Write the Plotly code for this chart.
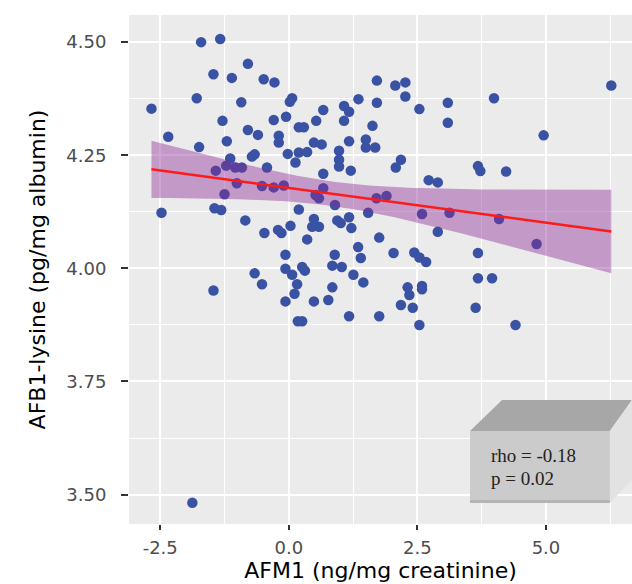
import numpy as np
import plotly.graph_objects as go

# AFM1 (ng/mg creatinine) values
afm1 = [
    -1.705, -1.334, -0.795, -1.465, -1.107, -0.488, -0.279, -1.790, -2.670, -0.924,
    0.065, 0.020, -1.289, -0.293, -0.053, -0.795, -0.600, -0.195, -0.195, -2.344,
    -1.205, -1.744, -0.664, -0.717, -0.020, 0.195, 0.357, 0.130, -1.139, -1.217,
    -1.041, -0.912, -0.424, -1.420, -1.010, -0.521, -0.293, -0.098, -1.250, -2.475,
    -1.445, -1.314, -0.846, -0.475, -0.209, -0.143, 0.033, 0.195, -0.065, -0.065,
    0.065, -0.664, -0.521, -1.465, 0.162, 0.111, -0.065, 0.176, 1.713, 2.070,
    2.266, 2.266, 1.354, 1.713, 3.092, 2.539, 3.092, 0.670, 1.074, 1.172,
    0.533, 1.074, 1.627, 0.195, 0.293, 1.498, 1.172, 0.488, 0.639, 1.498,
    1.680, 0.977, 0.977, 0.977, 1.205, 2.180, 2.080, 0.670, 2.720, 2.897,
    0.670, 6.270, 3.990, 4.955, 3.678, 3.725, 4.225, 0.520, 0.586, 1.705,
    1.900, 0.898, 1.543, 2.590, 3.125, 0.488, 0.455, 0.586, 0.943, 1.010,
    1.172, 1.217, 2.897, 0.357, 1.758, 1.348, 0.893, 1.400, 2.037, 2.440,
    2.540, 2.670, 0.846, 1.030, 0.260, 0.313, 1.256, 1.450, 0.846, 2.310,
    2.590, 2.590, 2.344, 0.488, 0.768, 2.180, 2.410, 1.172, 1.758, 0.260,
    2.539, 4.088, 4.818, 3.678, 3.678, 3.952, 3.633, 4.408, -1.875,
]

# AFB1-lysine (pg/mg albumin) values
afb1_lysine = [
    4.500, 4.507, 4.452, 4.429, 4.421, 4.418, 4.411, 4.376, 4.353, 4.367,
    4.376, 4.368, 4.326, 4.328, 4.335, 4.306, 4.295, 4.293, 4.278, 4.291,
    4.281, 4.268, 4.252, 4.247, 4.253, 4.256, 4.257, 4.234, 4.243, 4.227,
    4.223, 4.223, 4.223, 4.216, 4.188, 4.182, 4.179, 4.183, 4.164, 4.123,
    4.133, 4.129, 4.106, 4.078, 4.085, 4.078, 4.094, 4.130, 4.030, 3.999,
    3.986, 3.989, 3.965, 3.951, 3.965, 3.944, 3.927, 3.883, 4.415, 4.404,
    4.411, 4.380, 4.374, 4.366, 4.366, 4.352, 4.322, 4.350, 4.359, 4.346,
    4.326, 4.326, 4.315, 4.312, 4.312, 4.285, 4.281, 4.278, 4.274, 4.267,
    4.267, 4.260, 4.240, 4.225, 4.216, 4.240, 4.223, 4.209, 4.195, 4.190,
    4.177, 4.404, 4.376, 4.294, 4.226, 4.215, 4.214, 4.162, 4.155, 4.155,
    4.160, 4.140, 4.123, 4.120, 4.123, 4.109, 4.092, 4.092, 4.106, 4.100,
    4.113, 4.089, 4.081, 4.064, 4.068, 4.047, 4.030, 4.023, 4.034, 4.035,
    4.024, 4.014, 4.006, 4.003, 4.003, 3.995, 3.986, 3.969, 3.958, 3.958,
    3.961, 3.954, 3.941, 3.927, 3.930, 3.919, 3.913, 3.894, 3.894, 3.883,
    3.875, 4.109, 4.054, 4.034, 3.978, 3.978, 3.913, 3.875, 3.482,
]

x_tick_labels = ["-2.5", "0.0", "2.5", "5.0"]
y_tick_labels = ["3.50", "3.75", "4.00", "4.25", "4.50"]
stats_text = ["rho = -0.18", "p = 0.02"]

x = np.array(afm1)
y = np.array(afb1_lysine)
n = len(x)

# linear fit with 95% confidence band (like geom_smooth(method="lm"))
slope, intercept = np.polyfit(x, y, 1)
resid = y - (intercept + slope * x)
s = np.sqrt(np.sum(resid ** 2) / (n - 2))
xbar = x.mean()
sxx = np.sum((x - xbar) ** 2)
T_CRIT = 1.976
xg = np.linspace(x.min(), x.max(), 80)
yg = intercept + slope * xg
se = s * np.sqrt(1.0 / n + (xg - xbar) ** 2 / sxx)
upper = yg + T_CRIT * se
lower = yg - T_CRIT * se

fig = go.Figure()
fig.add_trace(go.Scatter(
    x=x, y=y, mode="markers",
    marker=dict(color="#3A52A3", size=10.5, line=dict(width=0)),
    hoverinfo="x+y", showlegend=False,
))
fig.add_trace(go.Scatter(
    x=np.concatenate([xg, xg[::-1]]),
    y=np.concatenate([upper, lower[::-1]]),
    mode="lines", fill="toself",
    fillcolor="rgba(140,40,150,0.42)",
    line=dict(width=0), hoverinfo="skip", showlegend=False,
))
fig.add_trace(go.Scatter(
    x=xg, y=yg, mode="lines",
    line=dict(color="#FF1A1A", width=2.5),
    hoverinfo="skip", showlegend=False,
))

font_ticks = dict(family="DejaVu Sans, Liberation Sans, Arial", size=18, color="#4D4D4D")
font_title = dict(family="DejaVu Sans, Liberation Sans, Arial", size=22, color="#000000")

fig.update_xaxes(
    range=[-3.107, 6.673],
    tickmode="array", tickvals=[float(v) for v in x_tick_labels], ticktext=x_tick_labels,
    ticks="outside", ticklen=5, tickwidth=1.5, tickcolor="#333333",
    tickfont=font_ticks, ticklabelstandoff=2,
    showgrid=True, gridcolor="white", gridwidth=1.8,
    minor=dict(tickvals=[-1.25, 1.25, 3.75, 6.25], showgrid=True, gridcolor="white", gridwidth=0.9, ticks=""),
    zeroline=False, showline=False,
    title=dict(text="AFM1 (ng/mg creatinine)", font=font_title, standoff=4),
)
fig.update_yaxes(
    range=[3.435, 4.560],
    tickmode="array", tickvals=[float(v) for v in y_tick_labels], ticktext=y_tick_labels,
    ticks="outside", ticklen=7, tickwidth=1.5, tickcolor="#333333",
    tickfont=font_ticks, ticklabelstandoff=11,
    showgrid=True, gridcolor="white", gridwidth=1.8,
    minor=dict(tickvals=[3.625, 3.875, 4.125, 4.375], showgrid=True, gridcolor="white", gridwidth=0.9, ticks=""),
    zeroline=False, showline=False,
    title=dict(text="AFB1-lysine (pg/mg albumin)", font=font_title, standoff=14),
)

# 3D-looking stats box (paper coordinates)
shapes = [
    dict(type="path", xref="paper", yref="paper", layer="above",
         path="M 0.678 0.1827 L 0.956 0.1827 L 1.0 0.2436 L 0.7416 0.2436 Z",
         fillcolor="#A7A7A7", line=dict(width=0)),
    dict(type="path", xref="paper", yref="paper", layer="above",
         path="M 0.956 0.1827 L 1.0 0.2436 L 1.0 0.0864 L 0.956 0.0413 Z",
         fillcolor="#E2E2E2", line=dict(width=0)),
    dict(type="rect", xref="paper", yref="paper", layer="above",
         x0=0.678, x1=0.956, y0=0.0413, y1=0.1827,
         fillcolor="#CBCBCB", line=dict(width=0)),
    dict(type="rect", xref="paper", yref="paper", layer="above",
         x0=0.678, x1=0.956, y0=0.0413, y1=0.0473,
         fillcolor="#B4B4B4", line=dict(width=0)),
]
fig.update_layout(shapes=shapes)

for i, txt in enumerate(stats_text):
    fig.add_annotation(
        text=txt, xref="paper", yref="paper",
        x=(489 - 129) / 503, y=(524 - (455 + 23 * i)) / 509,
        xanchor="left", yanchor="middle", showarrow=False,
        font=dict(family="Liberation Serif, Times New Roman, serif", size=19, color="#222222"),
    )

fig.update_layout(
    width=632, height=584,
    margin=dict(l=129, r=0, t=15, b=60, autoexpand=False),
    plot_bgcolor="#EBEBEB", paper_bgcolor="white",
    showlegend=False,
)

fig.write_html(
    "out.html",
    config={"displayModeBar": False},
    post_script="document.body.style.margin='0px';document.body.style.overflow='hidden';",
)
